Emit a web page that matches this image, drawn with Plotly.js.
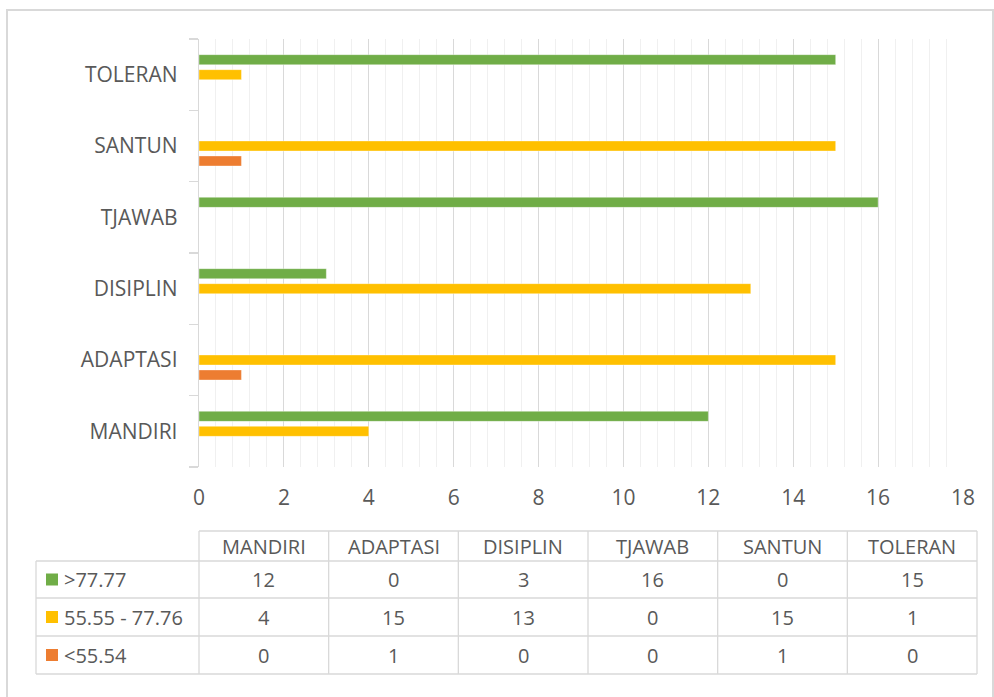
<!DOCTYPE html>
<html><head><meta charset="utf-8">
<script src="https://cdn.plot.ly/plotly-3.0.1.min.js"></script>
<style>html,body{margin:0;padding:0;background:#fff}#chart{width:994px;height:697px}</style>
</head><body><div id="chart"></div>
<script>
// ---- data ----
const categories = ['MANDIRI', 'ADAPTASI', 'DISIPLIN', 'TJAWAB', 'SANTUN', 'TOLERAN'];
const seriesNames = ['>77.77', '55.55 - 77.76', '<55.54'];
const high = [12, 0, 3, 16, 0, 15];
const mid = [4, 15, 13, 0, 15, 1];
const low = [0, 1, 0, 0, 1, 0];
const xTickVals = [0, 2, 4, 6, 8, 10, 12, 14, 16, 18];

const seriesValues = [high, mid, low];
const colors = ['#70AD47', '#FFC000', '#ED7D31'];
const textColor = '#595959';
const lineColor = '#d9d9d9';
const FONT = 'Open Sans, Noto Sans, sans-serif';

// plot area in pixels
const W = 994, H = 697, L = 199, R = 963, T = 39, B = 467;
const px = x => (x - L) / (R - L);
const py = y => (B - y) / (B - T);

// traces: plotted bottom-to-top within each group (low, mid, high)
const traces = [2, 1, 0].map(i => ({
  type: 'bar', orientation: 'h',
  y: categories, x: seriesValues[i], name: seriesNames[i],
  marker: {color: colors[i], line: {color: 'rgba(255,255,255,0.6)', width: 0.6}},
  hoverinfo: 'x+y+name'
}));

// table geometry
const tabLeft = 36, tabX0 = 199, tabX1 = 977;
const colW = (tabX1 - tabX0) / categories.length;
const rowY = [531, 561, 598, 636, 674];
const shapes = [];
const annotations = [];
const ln = (x0, y0, x1, y1, w, c) => shapes.push({type: 'line', xref: 'paper', yref: 'paper',
  x0: px(x0), y0: py(y0), x1: px(x1), y1: py(y1), line: {color: c || lineColor, width: w || 1.3}});

// outer frame
shapes.push({type: 'rect', xref: 'paper', yref: 'paper', x0: px(7), x1: px(993), y0: py(10), y1: py(705),
  line: {color: lineColor, width: 2}, layer: 'below'});

// horizontal table lines
ln(tabX0, rowY[0], tabX1, rowY[0]);
for (let r = 1; r < rowY.length; r++) ln(tabLeft, rowY[r], tabX1, rowY[r]);
// vertical table lines
ln(tabLeft, rowY[1], tabLeft, rowY[4]);
for (let c = 0; c <= categories.length; c++) ln(tabX0 + c * colW, rowY[0], tabX0 + c * colW, rowY[4]);

const ann = (x, y, text, anchor) => annotations.push({xref: 'paper', yref: 'paper', x: px(x), y: py(y),
  text: text, showarrow: false, xanchor: anchor || 'center', yanchor: 'middle',
  font: {family: FONT, size: 20, color: textColor}});

// header
categories.forEach((c, i) => ann(tabX0 + (i + 0.5) * colW, (rowY[0] + rowY[1]) / 2, c));
// rows
seriesNames.forEach((s, r) => {
  const yc = (rowY[r + 1] + rowY[r + 2]) / 2;
  shapes.push({type: 'rect', xref: 'paper', yref: 'paper', x0: px(46), x1: px(58), y0: py(yc - 6), y1: py(yc + 6),
    fillcolor: colors[r], line: {width: 0}});
  ann(62, yc, s, 'left');
  seriesValues[r].forEach((v, i) => ann(tabX0 + (i + 0.5) * colW, yc, String(v)));
});

const layout = {
  width: W, height: H,
  margin: {l: L, r: W - R, t: T, b: H - B, pad: 0},
  paper_bgcolor: '#fff', plot_bgcolor: '#fff',
  barmode: 'group', bargap: 0.37, bargroupgap: 0.33,
  showlegend: false,
  font: {family: FONT, color: textColor},
  xaxis: {
    range: [0, 18], tickvals: xTickVals, ticktext: xTickVals.map(String),
    showgrid: true, gridcolor: lineColor, gridwidth: 1,
    minor: {dtick: 0.4, tick0: 0, showgrid: true, gridcolor: '#f0f0f0', gridwidth: 1},
    zeroline: false, showline: false, ticks: '',
    tickfont: {family: FONT, size: 21, color: textColor},
    ticklabelstandoff: 16, fixedrange: true
  },
  yaxis: {
    type: 'category', categoryorder: 'array', categoryarray: categories,
    showline: true, linecolor: lineColor, linewidth: 1.3,
    ticks: 'outside', tickson: 'boundaries', ticklen: 9, tickcolor: lineColor, tickwidth: 1.3,
    showgrid: false, zeroline: false,
    tickfont: {family: FONT, size: 21, color: textColor},
    ticklabelstandoff: 16, fixedrange: true
  },
  shapes: shapes, annotations: annotations
};

Plotly.newPlot('chart', traces, layout, {displayModeBar: false, staticPlot: true});
</script></body></html>
